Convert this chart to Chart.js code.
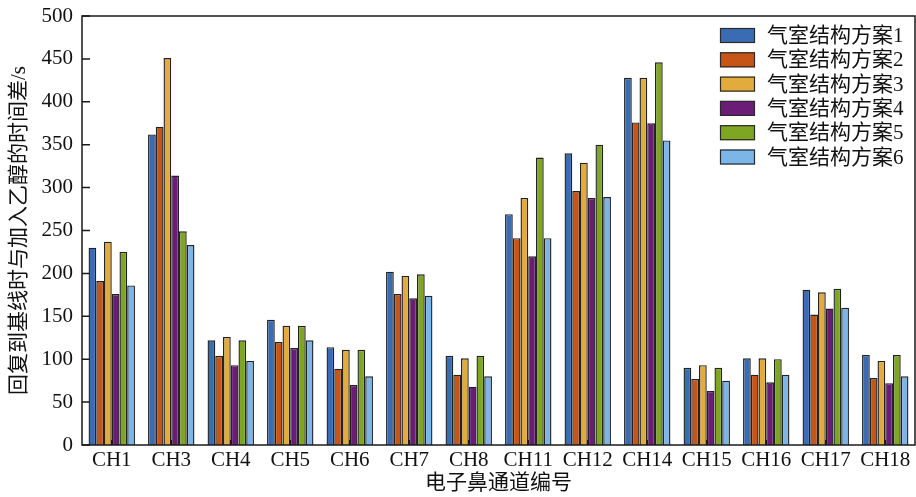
<!DOCTYPE html>
<html>
<head>
<meta charset="utf-8">
<script src="https://cdn.jsdelivr.net/npm/chart.js@4/dist/chart.umd.min.js"></script>
<style>
  html, body { margin: 0; padding: 0; background: #fff; }
  #wrap { width: 916px; height: 497px; }
  canvas { display: block; }
</style>
</head>
<body>
<div id="wrap"><canvas id="c" width="916" height="497"></canvas></div>
<script>
// Channels of the electronic nose
const channels = ['CH1','CH3','CH4','CH5','CH6','CH7','CH8','CH11','CH12','CH14','CH15','CH16','CH17','CH18'];

// Recovery time difference (s) for each gas-chamber design
const scheme1 = [230, 362, 122, 146, 114, 202, 104, 269, 340, 428, 90, 101, 181, 105];
const scheme2 = [191, 371, 104, 120,  89, 176,  82, 241, 296, 376, 77,  82, 152,  78];
const scheme3 = [237, 451, 126, 139, 111, 197, 101, 288, 329, 428, 93, 101, 178,  98];
const scheme4 = [176, 314,  93, 113,  70, 171,  68, 220, 288, 375, 63,  73, 159,  72];
const scheme5 = [225, 249, 122, 139, 111, 199, 104, 335, 350, 446, 90, 100, 182, 105];
const scheme6 = [186, 233,  98, 122,  80, 174,  80, 241, 289, 355, 75,  82, 160,  80];

const seriesNames = ['气室结构方案1','气室结构方案2','气室结构方案3','气室结构方案4','气室结构方案5','气室结构方案6'];
const yTicks = [0, 50, 100, 150, 200, 250, 300, 350, 400, 450, 500];

const colors = ['#3a6cb4', '#c65518', '#e2ab3e', '#6b1c77', '#7fa623', '#7cb6e8'];
const allSeries = [scheme1, scheme2, scheme3, scheme4, scheme5, scheme6];

const FONT = '"Liberation Serif", "Noto Sans CJK SC", serif';

// Inward tick marks on the value axis, drawn beneath the bars
const tickPlugin = {
  id: 'inTicks',
  beforeDatasetsDraw(chart) {
    const { ctx, chartArea: a } = chart;
    const y = chart.scales.y;
    ctx.save();
    ctx.strokeStyle = '#1a1a1a';
    ctx.lineWidth = 1.5;
    ctx.beginPath();
    yTicks.forEach(v => {
      const py = y.getPixelForValue(v);
      ctx.moveTo(a.left, py);
      ctx.lineTo(a.left + 8, py);
    });
    ctx.stroke();
    ctx.restore();
  }
};

// Box frame around the plot, small inward ticks on the category axis, and an in-plot legend
const framePlugin = {
  id: 'frame',
  afterDraw(chart) {
    const { ctx, chartArea: a } = chart;
    const x = chart.scales.x;
    ctx.save();
    ctx.strokeStyle = '#1a1a1a';
    ctx.lineWidth = 1.5;
    ctx.strokeRect(a.left, a.top, a.right - a.left, a.bottom - a.top);
    ctx.lineWidth = 2;
    ctx.beginPath();
    for (let i = 0; i < channels.length; i++) {
      const px = Math.round(x.getPixelForTick(i));
      ctx.moveTo(px, a.bottom);
      ctx.lineTo(px, a.bottom - 5);
    }
    ctx.stroke();

    // legend
    const lx = 720, ly = 28, sw = 35, sh = 15, gap = 24.3;
    ctx.font = '21px ' + FONT;
    ctx.textBaseline = 'middle';
    ctx.textAlign = 'left';
    chart.data.datasets.forEach((ds, i) => {
      const yy = ly + i * gap;
      ctx.fillStyle = ds.backgroundColor;
      ctx.fillRect(lx, yy, sw, sh);
      ctx.lineWidth = 1.2;
      ctx.strokeStyle = '#2a2a2a';
      ctx.strokeRect(lx + 0.5, yy + 0.5, sw - 1, sh - 1);
      ctx.fillStyle = '#111';
      ctx.fillText(ds.label, 767, yy + sh / 2 + 1);
    });
    ctx.restore();
  }
};

new Chart(document.getElementById('c'), {
  type: 'bar',
  data: {
    labels: channels,
    datasets: allSeries.map((vals, i) => ({
      label: seriesNames[i],
      data: vals,
      backgroundColor: colors[i],
      borderColor: '#222',
      borderWidth: 1.4,
      categoryPercentage: 0.78,
      barPercentage: 1.0
    }))
  },
  options: {
    responsive: false,
    animation: false,
    devicePixelRatio: 1,
    layout: { padding: { top: 16, right: 1, left: 0, bottom: 0 } },
    plugins: {
      legend: { display: false },
      tooltip: { enabled: false }
    },
    scales: {
      x: {
        grid: { display: false, drawTicks: false },
        border: { display: false },
        ticks: { color: '#111', font: { family: FONT, size: 21 }, padding: 3, maxRotation: 0, autoSkip: false },
        title: { display: true, text: '电子鼻通道编号', color: '#111', font: { family: FONT, size: 21 }, padding: { top: 0, bottom: 1 } },
        afterFit(s) { s.height = 52; }
      },
      y: {
        min: 0,
        max: 500,
        grid: { display: false, drawTicks: false },
        border: { display: false },
        afterBuildTicks(s) { s.ticks = yTicks.map(v => ({ value: v })); },
        ticks: { color: '#111', font: { family: FONT, size: 21 }, padding: 9 },
        title: { display: true, text: '回复到基线时与加入乙醇的时间差/s', color: '#111', font: { family: FONT, size: 21 }, padding: { top: 7, bottom: 0 } },
        afterFit(s) { s.width = 82; s.paddingTop = 0; s.paddingBottom = 0; }
      }
    }
  },
  plugins: [tickPlugin, framePlugin]
});
</script>
</body>
</html>
